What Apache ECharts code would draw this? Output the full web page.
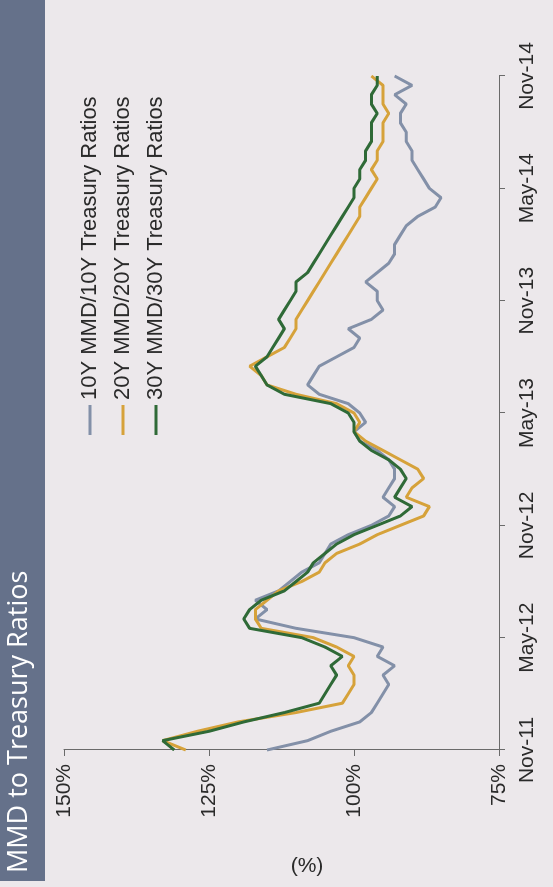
<!DOCTYPE html>
<html>
<head>
<meta charset="utf-8">
<script src="https://cdn.jsdelivr.net/npm/echarts@6/dist/echarts.min.js"></script>
<style>
  html, body { margin: 0; padding: 0; background: #ece8eb; overflow: hidden; }
  /* chart is drawn upright, then turned a quarter turn to the left like the scan */
  #chart-box {
    position: absolute; left: 0; top: 0;
    width: 887px; height: 553px;
    transform-origin: 0 0;
    transform: translate(0, 887px) rotate(-90deg);
  }
</style>
</head>
<body>
<div id="chart-box"></div>
<script>
// tick labels along the time axis, one every 6 months
const tickLabels = ['Nov-11', 'May-12', 'Nov-12', 'May-13', 'Nov-13', 'May-14', 'Nov-14'];
const seriesNames = ['10Y MMD/10Y Treasury Ratios', '20Y MMD/20Y Treasury Ratios', '30Y MMD/30Y Treasury Ratios'];

// readings every half month from Nov-11 to Nov-14 (%)
const ratio10y = [115, 108, 104, 99, 97, 96, 95, 94, 95, 93, 96, 95, 100, 110, 117, 115, 117, 113, 111, 109,
  106, 105, 104, 101, 97, 94, 93, 95, 94, 93, 93, 94, 96, 99, 100, 98, 99, 101, 106, 108,
  107, 106, 103, 100, 99, 101, 97, 95, 96, 96, 98, 96, 94, 93, 93, 92, 91, 89, 86, 85,
  87, 88, 89, 90, 90, 91, 91, 92, 92, 91, 93, 90, 93];
const ratio20y = [129, 133, 127, 120, 110, 102, 101, 100, 100, 101, 100, 103, 107, 116, 117, 117, 115, 113, 109, 106,
  105, 103, 99, 96, 92, 88, 87, 91, 90, 88, 89, 92, 95, 98, 100, 99, 100, 103, 110, 115,
  116, 118, 115, 112, 111, 110, 110, 109, 108, 107, 106, 105, 104, 103, 102, 101, 100, 99, 99, 98,
  97, 96, 97, 96, 96, 95, 95, 95, 94, 95, 95, 95, 97];
const ratio30y = [131, 133, 125, 119, 112, 106, 105, 104, 103, 104, 102, 105, 109, 118, 119, 118, 116, 112, 110, 108,
  107, 105, 103, 100, 96, 92, 90, 93, 92, 91, 92, 94, 97, 99, 100, 100, 101, 104, 112, 115,
  116, 117, 115, 114, 113, 112, 113, 112, 111, 110, 110, 108, 107, 106, 105, 104, 103, 102, 101, 100,
  100, 99, 99, 98, 98, 97, 97, 97, 96, 97, 97, 96, 96];

const lineColors = ['#8390a8', '#d6a23a', '#2f6a37'];
const axisFont = 'Liberation Sans, Arial, sans-serif';

// x = months after Nov-11, half a month per reading
function toPoints(values) {
  return values.map((v, i) => [i / 2, v]);
}

let chartIns = echarts.init(document.getElementById('chart-box'), null, { renderer: 'canvas' });

let option = {
  backgroundColor: '#ece8eb',
  animation: false,
  grid: { left: 137, right: 76, top: 64, bottom: 54 },
  legend: {
    orient: 'vertical',
    left: 447,
    top: 74,
    itemWidth: 30,
    itemHeight: 3,
    itemGap: 11,
    icon: 'rect',
    textStyle: { fontFamily: axisFont, fontSize: 22, color: '#2a2a2a' },
    data: seriesNames,
  },
  xAxis: {
    type: 'value',
    min: 0,
    max: 36,
    interval: 6,
    axisLine: { show: true, lineStyle: { color: '#6a6a6a', width: 1 } },
    axisTick: { show: true, inside: false, length: 6, lineStyle: { color: '#6a6a6a' } },
    axisLabel: {
      margin: 18,
      fontFamily: axisFont,
      fontSize: 21,
      color: '#2a2a2a',
      formatter: v => tickLabels[Math.round(v / 6)],
    },
    splitLine: { show: false },
  },
  yAxis: {
    type: 'value',
    min: 75,
    max: 150,
    interval: 25,
    axisLine: { show: true, lineStyle: { color: '#6a6a6a', width: 1 } },
    axisTick: { show: true, inside: false, length: 6, lineStyle: { color: '#6a6a6a' } },
    axisLabel: { margin: 14, fontFamily: axisFont, fontSize: 21, color: '#2a2a2a', formatter: '{value}%' },
    splitLine: { show: false },
  },
  graphic: [
    // title band
    { type: 'rect', left: 6, top: 0, shape: { width: 881, height: 45 }, style: { fill: '#65718a' }, z: 0 },
    {
      type: 'text', left: 14, top: 6,
      style: { text: 'MMD to Treasury Ratios', fill: '#ffffff', font: '27px "Open Sans", sans-serif' },
    },
    // axis unit, turned on its side
    {
      type: 'text', x: 21, y: 307, rotation: -Math.PI / 2,
      style: { text: '(%)', fill: '#2a2a2a', font: '21px ' + axisFont, align: 'center', verticalAlign: 'middle' },
    },
  ],
  series: [ratio10y, ratio20y, ratio30y].map((vals, i) => ({
    name: seriesNames[i],
    type: 'line',
    data: toPoints(vals),
    showSymbol: false,
    smooth: false,
    color: lineColors[i],
    lineStyle: { width: 3, color: lineColors[i] },
  })),
};

chartIns.setOption(option);
</script>
</body>
</html>
